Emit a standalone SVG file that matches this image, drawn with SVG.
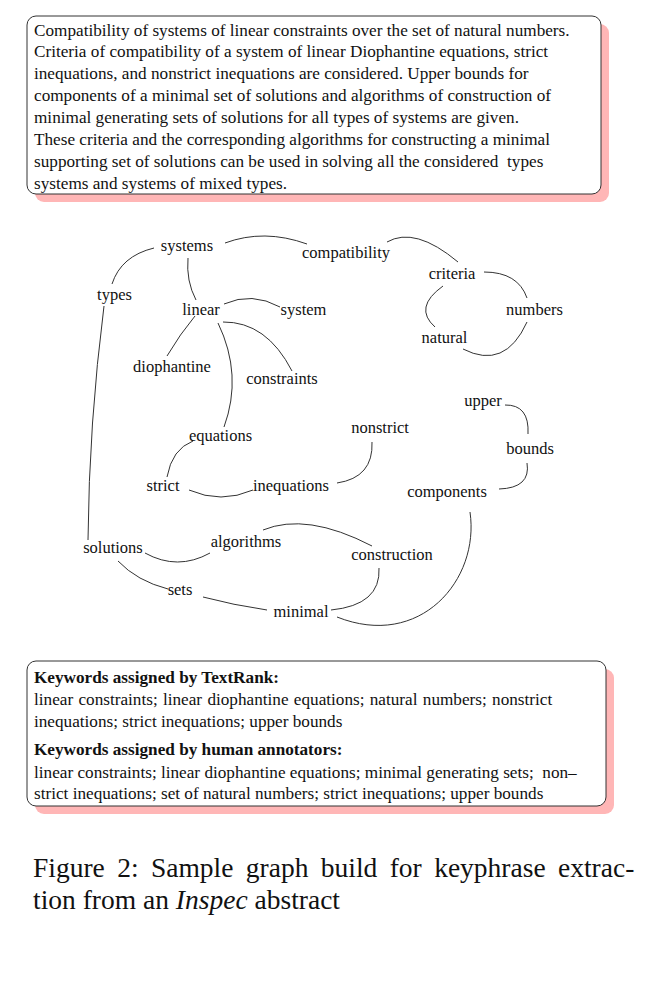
<svg xmlns="http://www.w3.org/2000/svg" width="654" height="991" viewBox="0 0 654 991">
<style>
.t{font-family:"Liberation Serif","Times New Roman",serif;font-size:17.2px;fill:#111}
.b{font-weight:bold}
.n{font-family:"Liberation Serif","Times New Roman",serif;font-size:16.5px;fill:#111;text-anchor:middle}
.e{fill:none;stroke:#333;stroke-width:1}
.box{fill:#fff;stroke:#333;stroke-width:1}
.sh{fill:#ffb6b6}
.cap{font-family:"Liberation Serif","Times New Roman",serif;font-size:27.5px;fill:#111}
.pre{white-space:pre}
</style>
<rect width="654" height="991" fill="#fff"/>
<g id="abstract">
<rect class="sh" x="35" y="24" width="574" height="178" rx="9"/>
<rect class="box" x="27" y="16" width="574" height="178" rx="9"/>
<text class="t" x="34" y="35.5">Compatibility of systems of linear constraints over the set of natural numbers.</text>
<text class="t" x="34" y="57.4">Criteria of compatibility of a system of linear Diophantine equations, strict</text>
<text class="t" x="34" y="79.3">inequations, and nonstrict inequations are considered. Upper bounds for</text>
<text class="t" x="34" y="101.2">components of a minimal set of solutions and algorithms of construction of</text>
<text class="t" x="34" y="123.1">minimal generating sets of solutions for all types of systems are given.</text>
<text class="t" x="34" y="145">These criteria and the corresponding algorithms for constructing a minimal</text>
<text class="t pre" x="34" y="166.9">supporting set of solutions can be used in solving all the considered  types</text>
<text class="t" x="34" y="188.8">systems and systems of mixed types.</text>
</g>
<g id="connectors">
<path class="e" d="M154,248 Q121,256 112,284"/>
<path class="e" d="M104,306 Q89,423 88,540"/>
<path class="e" d="M188,258 Q186,281 196,300"/>
<path class="e" d="M225,243 Q264,228.5 307,244"/>
<path class="e" d="M387,242 Q415,226 458,262"/>
<path class="e" d="M484,272 Q518,272 527,298"/>
<path class="e" d="M443,286 Q413,307.5 435,327"/>
<path class="e" d="M527,322 Q505,370.5 463,349"/>
<path class="e" d="M224,304 Q252,291.5 280,307"/>
<path class="e" d="M195,316 Q180,334 167,356"/>
<path class="e" d="M223,322 Q266.5,321.5 292,371"/>
<path class="e" d="M218,323 Q243,375 224,427"/>
<path class="e" d="M193,441 Q172,449 167,477"/>
<path class="e" d="M189,490 Q221,504 253,490"/>
<path class="e" d="M337,483 Q373.5,477.5 372,442"/>
<path class="e" d="M505,405 Q529.5,404.5 528,434"/>
<path class="e" d="M527,463 Q531,488 499,489"/>
<path class="e" d="M470,512 C480,580 420,650 337,617"/>
<path class="e" d="M379,568 Q381,605 331,610"/>
<path class="e" d="M263,530 Q306.5,512 372,546"/>
<path class="e" d="M145,553 Q177.5,571 210,553"/>
<path class="e" d="M118,561 Q137,581 168,589"/>
<path class="e" d="M203,597 Q233,605 267,610"/>
</g>
<g id="n-systems"><text class="n" x="187" y="251">systems</text></g>
<g id="n-compatibility"><text class="n" x="346" y="258">compatibility</text></g>
<g id="n-criteria"><text class="n" x="452" y="279">criteria</text></g>
<g id="n-types"><text class="n" x="114.5" y="300">types</text></g>
<g id="n-linear"><text class="n" x="201" y="315">linear</text></g>
<g id="n-system"><text class="n" x="303.5" y="315">system</text></g>
<g id="n-numbers"><text class="n" x="534.5" y="315">numbers</text></g>
<g id="n-natural"><text class="n" x="444.5" y="343">natural</text></g>
<g id="n-diophantine"><text class="n" x="172" y="371.5">diophantine</text></g>
<g id="n-constraints"><text class="n" x="282" y="384">constraints</text></g>
<g id="n-upper"><text class="n" x="483" y="406">upper</text></g>
<g id="n-nonstrict"><text class="n" x="380" y="433">nonstrict</text></g>
<g id="n-equations"><text class="n" x="220.5" y="441">equations</text></g>
<g id="n-bounds"><text class="n" x="530" y="454">bounds</text></g>
<g id="n-strict"><text class="n" x="163" y="491">strict</text></g>
<g id="n-inequations"><text class="n" x="291" y="491">inequations</text></g>
<g id="n-components"><text class="n" x="447" y="497">components</text></g>
<g id="n-solutions"><text class="n" x="113" y="553">solutions</text></g>
<g id="n-algorithms"><text class="n" x="246" y="547">algorithms</text></g>
<g id="n-construction"><text class="n" x="392" y="560">construction</text></g>
<g id="n-sets"><text class="n" x="180" y="595">sets</text></g>
<g id="n-minimal"><text class="n" x="301" y="617">minimal</text></g>
<g id="keywords">
<rect class="sh" x="35" y="669" width="579" height="145" rx="9"/>
<rect class="box" x="27" y="661" width="579" height="145" rx="9"/>
<text class="t b" x="34" y="682.5">Keywords assigned by TextRank:</text>
<text class="t" x="34" y="705" word-spacing="1">linear constraints; linear diophantine equations; natural numbers; nonstrict</text>
<text class="t" x="34" y="726.5">inequations; strict inequations; upper bounds</text>
<text class="t b" x="34" y="755">Keywords assigned by human annotators:</text>
<text class="t pre" x="34" y="777.5">linear constraints; linear diophantine equations; minimal generating sets;  non–</text>
<text class="t" x="34" y="799">strict inequations; set of natural numbers; strict inequations; upper bounds</text>
</g>
<g id="caption">
<text class="cap" x="33" y="877" word-spacing="5.5">Figure 2: Sample graph build for keyphrase extrac-</text>
<text class="cap" x="33" y="909">tion from an <tspan font-style="italic">Inspec</tspan> abstract</text>
</g>
</svg>
